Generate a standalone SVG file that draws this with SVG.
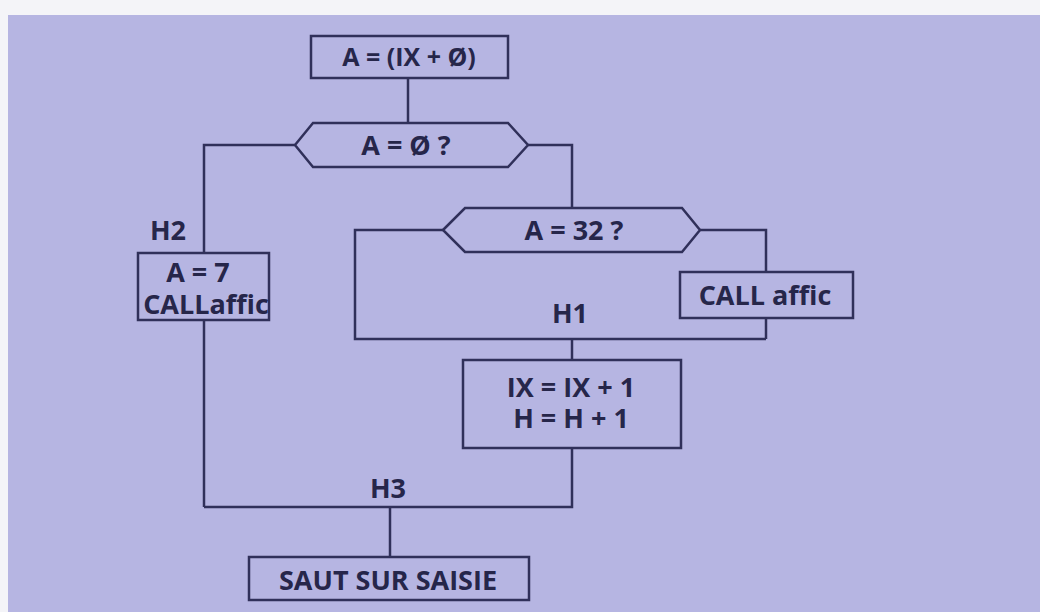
<svg xmlns="http://www.w3.org/2000/svg" width="1040" height="612" viewBox="0 0 1040 612">
<style>
.bx{fill:none;stroke:#30305a;stroke-width:2.5}
.ln{fill:none;stroke:#30305a;stroke-width:2.5}
.t{font-family:"Open Sans","DejaVu Sans",sans-serif;font-weight:700;font-size:27px;fill:#26264a;text-anchor:middle;dominant-baseline:central}
.n{font-size:25px}
</style>
<rect x="0" y="0" width="1040" height="612" fill="#f4f4f8"/>
<rect x="8" y="15" width="1032" height="597" fill="#b6b5e2"/>
<g id="connectors">
<polyline class="ln" points="408,78 408,123"/>
<polyline class="ln" points="295,145 204,145 204,253"/>
<polyline class="ln" points="528,145 572,145 572,208"/>
<polyline class="ln" points="443,230 355,230 355,339 766,339"/>
<polyline class="ln" points="700,230 766,230 766,272"/>
<polyline class="ln" points="766,318 766,339"/>
<polyline class="ln" points="572,339 572,360"/>
<polyline class="ln" points="572,448 572,507 204,507"/>
<polyline class="ln" points="204,320 204,507"/>
<polyline class="ln" points="390,507 390,557"/>
</g>
<g id="labels">
<text class="t" x="168" y="229">H2</text>
<text class="t" x="570" y="312">H1</text>
<text class="t" x="388" y="487">H3</text>
</g>
<g id="n1">
<rect class="bx" x="311" y="36" width="197" height="42"/>
<text class="t n" x="409" y="56">A = (IX + Ø)</text>
</g>
<g id="n2">
<polygon class="bx" points="295,145 313,123 508,123 528,145 508,167 313,167"/>
<text class="t" x="406" y="144">A = Ø ?</text>
</g>
<g id="n3">
<polygon class="bx" points="443,230 465,208 682,208 700,230 682,252 465,252"/>
<text class="t" x="574" y="229">A = 32 ?</text>
</g>
<g id="n4">
<rect class="bx" x="680" y="272" width="173" height="46"/>
<text class="t" x="765" y="294">CALL affic</text>
</g>
<g id="n5">
<rect class="bx" x="138" y="253" width="131" height="67"/>
<text class="t" x="198" y="271">A = 7</text>
<text class="t" x="206" y="303">CALLaffic</text>
</g>
<g id="n6">
<rect class="bx" x="463" y="360" width="218" height="88"/>
<text class="t" x="571" y="386">IX = IX + 1</text>
<text class="t" x="571" y="417">H = H + 1</text>
</g>
<g id="n7">
<rect class="bx" x="249" y="557" width="280" height="43"/>
<text class="t" x="388" y="579">SAUT SUR SAISIE</text>
</g>
</svg>
